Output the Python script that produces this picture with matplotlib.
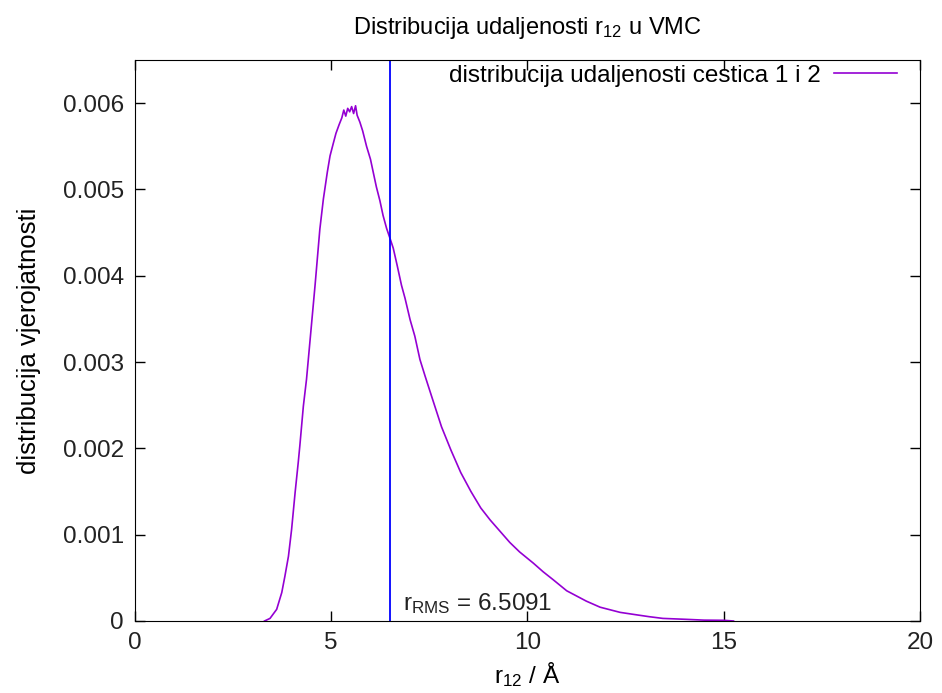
import matplotlib
matplotlib.use('Agg')
import matplotlib.pyplot as plt
from matplotlib.ticker import FuncFormatter

# distribucija udaljenosti r12 (ocitano sa slike)
r12 = [3.30, 3.44, 3.61, 3.74, 3.82, 3.91, 3.99, 4.08, 4.16, 4.20,
       4.29, 4.37, 4.48, 4.59, 4.71, 4.80, 4.90, 4.97, 5.05, 5.12,
       5.20, 5.27, 5.32, 5.37, 5.42, 5.47, 5.52, 5.57, 5.62, 5.66,
       5.73, 5.80, 5.90, 6.00, 6.07, 6.15, 6.24, 6.32, 6.41, 6.50,
       6.58, 6.68, 6.79, 6.88, 7.01, 7.13, 7.26, 7.39, 7.56, 7.81,
       8.05, 8.30, 8.56, 8.81, 9.05, 9.30, 9.55, 9.80, 10.15, 10.40,
       10.65, 11.00, 11.25, 11.50, 11.85, 12.36, 12.80, 13.10, 13.45, 14.00,
       14.50, 15.00, 15.25]
prob = [0.0, 0.00003, 0.000135, 0.00033, 0.00052, 0.00075, 0.00106, 0.00149, 0.00184, 0.00203,
        0.00249, 0.0028, 0.00335, 0.0039, 0.00454, 0.00489, 0.0052, 0.00539, 0.00553, 0.00565,
        0.00575, 0.00583, 0.00592, 0.00585, 0.00594, 0.0059, 0.00596, 0.00588, 0.00597, 0.00586,
        0.00578, 0.00568, 0.0055, 0.00535, 0.0052, 0.00503, 0.00487, 0.0047, 0.00455, 0.00443,
        0.00432, 0.00412, 0.00389, 0.00374, 0.00349, 0.0033, 0.00303, 0.00284, 0.0026, 0.00225,
        0.00198, 0.00172, 0.0015, 0.00131, 0.00117, 0.00104, 0.00091, 0.0008, 0.00067, 0.00057,
        0.00048, 0.00035, 0.00029, 0.00023, 0.00016, 0.0001, 0.00007, 0.00005, 0.00003, 0.00002,
        0.00001, 0.000008, 0.0]
r_rms = 6.5091

x_ticks = [0, 5, 10, 15, 20]
y_ticks = [0, 0.001, 0.002, 0.003, 0.004, 0.005, 0.006]

plt.rcParams['font.family'] = ['Liberation Sans', 'DejaVu Sans']
plt.rcParams['mathtext.fontset'] = 'custom'
plt.rcParams['mathtext.rm'] = 'Liberation Sans'
plt.rcParams['mathtext.it'] = 'Liberation Sans'

fig = plt.figure(figsize=(9.42, 6.93), dpi=100)
ax = fig.add_axes([0.1433, 0.1039, 0.8333, 0.8095])

ax.plot(r12, prob, color='#9400D3', lw=1.2,
        label='distribucija udaljenosti cestica 1 i 2')
ax.axvline(r_rms, color='#0000FF', lw=1.3)
ax.text(r_rms + 0.33, 0.00013, r'$\mathrm{r_{RMS}}$ = %.4f' % r_rms,
        fontsize=17.5, color='#222222')

ax.set_xlim(0, 20)
ax.set_ylim(0, 0.0065)
ax.set_xticks(x_ticks)
ax.set_yticks(y_ticks)
ax.yaxis.set_major_formatter(FuncFormatter(lambda v, p: '0' if v == 0 else '%.3f' % v))
ax.tick_params(direction='in', length=7, width=1, top=True, right=True,
               labelsize=17.5, labelcolor='#222222', pad=8)

ax.set_title(r'Distribucija udaljenosti $\mathrm{r_{12}}$ u VMC', fontsize=17, pad=19)
ax.set_xlabel(r'$\mathrm{r_{12}}$ / Å', fontsize=17.5, labelpad=4)
ax.set_ylabel('distribucija vjerojatnosti', fontsize=18.5, labelpad=16)

ax.legend(loc='upper right', bbox_to_anchor=(0.977, 1.0), frameon=False,
          markerfirst=False, fontsize=17.5, handlelength=2.6,
          borderaxespad=0, borderpad=0.2, handletextpad=0.55)

fig.savefig('out.png', dpi=100)
